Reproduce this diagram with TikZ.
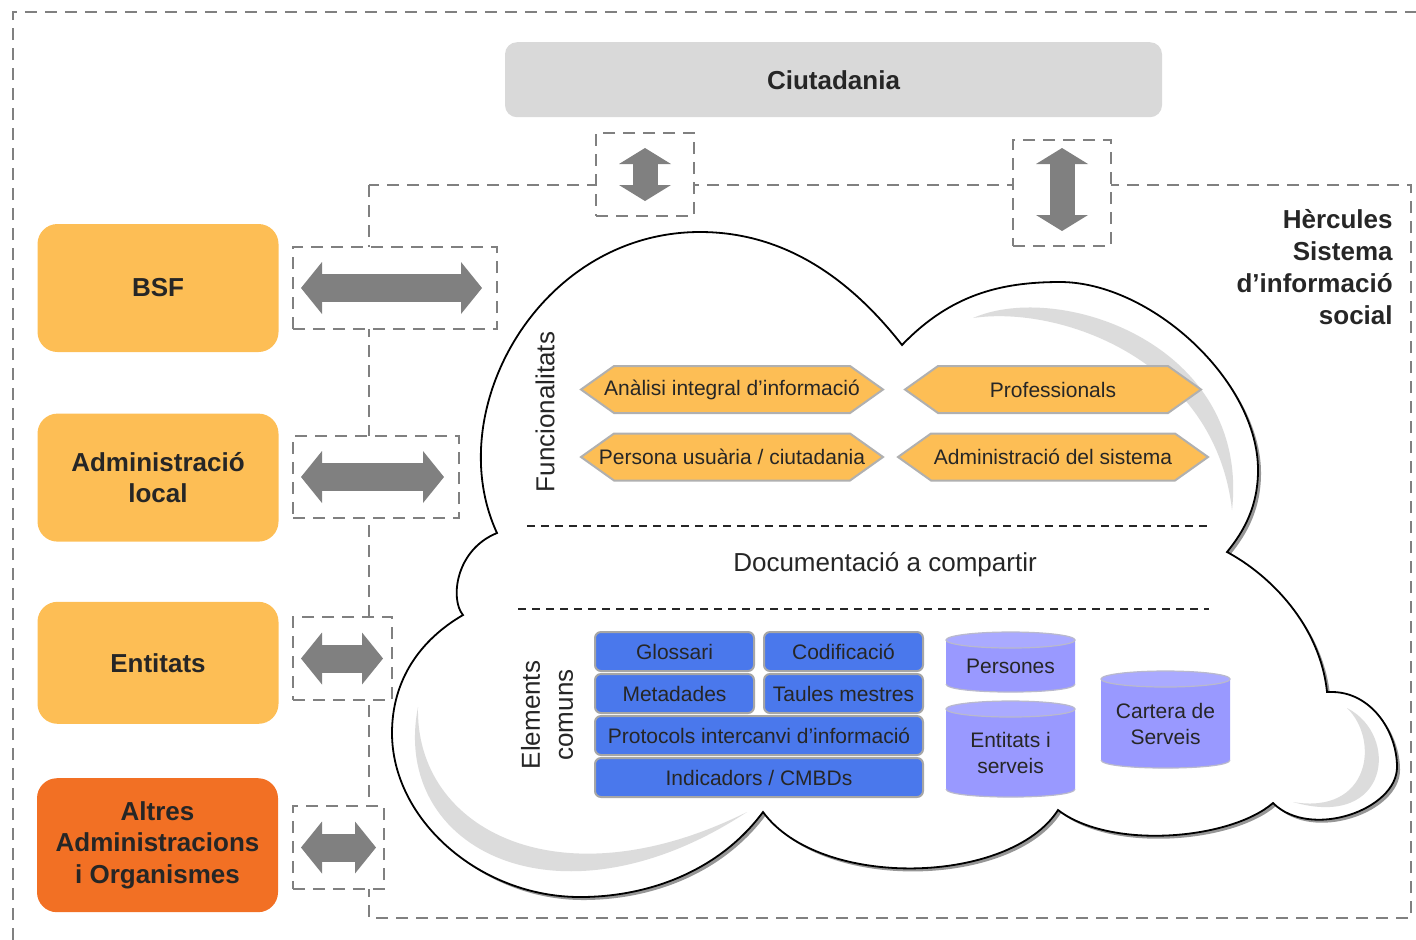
\documentclass[tikz,border=0pt]{standalone}
\usepackage{fontspec}
\setmainfont{Liberation Sans}
\usepackage{tikz}
\usetikzlibrary{arrows.meta,positioning}

\definecolor{orgyellow}{RGB}{253,190,85}
\definecolor{orgorange}{RGB}{242,112,36}
\definecolor{citgray}{RGB}{217,217,217}
\definecolor{framegray}{RGB}{128,128,128}
\definecolor{arrgray}{RGB}{128,128,128}
\definecolor{elemblue}{RGB}{74,120,236}
\definecolor{elemline}{RGB}{166,166,166}
\definecolor{hexline}{RGB}{176,176,176}
\definecolor{dbbody}{RGB}{153,153,255}
\definecolor{dbtop}{RGB}{170,170,255}
\definecolor{dbline}{RGB}{185,185,205}
\definecolor{txtdark}{RGB}{38,38,38}
\definecolor{shinegray}{RGB}{220,220,220}
\definecolor{cloudshadow}{RGB}{150,150,150}

\newcommand{\hcloud}{(497,533) .. controls (440,410) and (540,232) .. (700,232)
	.. controls (790,232) and (855,285) .. (902,345)
	.. controls (950,295) and (1000,282) .. (1060,282)
	.. controls (1150,282) and (1258,380) .. (1258,470)
	.. controls (1258,505) and (1245,530) .. (1227,552)
	.. controls (1270,575) and (1320,625) .. (1327,692) -- (1332,692)
	.. controls (1370,692) and (1397,730) .. (1397,767)
	.. controls (1397,810) and (1310,840) .. (1273,803)
	.. controls (1230,840) and (1110,850) .. (1058,810)
	.. controls (1010,885) and (820,890) .. (763,812)
	.. controls (720,870) and (650,897) .. (580,897)
	.. controls (480,897) and (392,820) .. (392,733)
	.. controls (392,680) and (420,640) .. (463,615)
	.. controls (450,600) and (455,550) .. (497,533) -- cycle}

\newcommand{\funcbox}[5]{%
	\draw[funcshape] (#2,#4) -- (#2+33,#4-23.5) -- (#3-33,#4-23.5) -- (#3,#4) -- (#3-33,#4+23.5) -- (#2+33,#4+23.5) -- cycle;
	\node[functext] (#1) at ({(#2+#3)/2},#4) {#5};}

\newcommand{\dbcyl}[6]{%
	\fill[dbbody] (#2,#4+8) -- (#2,#5-8) .. controls (#2,#5+2.7) and (#3,#5+2.7) .. (#3,#5-8) -- (#3,#4+8) -- cycle;
	\draw[dbedge] (#2,#5-8) .. controls (#2,#5+2.7) and (#3,#5+2.7) .. (#3,#5-8);
	\filldraw[dbtop,draw=dbline,line width=0.6pt] ({(#2+#3)/2},#4+8) ellipse [x radius=32.25pt,y radius=4pt];
	\node[dbtext] (#1) at ({(#2+#3)/2},{(#4+#5)/2+4}) {#6};}

\begin{document}
\begin{tikzpicture}[x=0.5pt,y=-0.5pt,
	dashframe/.style={draw=framegray,line width=1.2pt,dash pattern=on 6pt off 4pt},
	arrbox/.style={dashframe,fill=white,inner sep=0pt,outer sep=0pt},
	harrow/.style={draw=arrgray,line width=14pt,{Triangle[width=26pt,length=10.5pt,line width=0pt 0]}-{Triangle[width=26pt,length=10.5pt,line width=0pt 0]}},
	varrow/.style={draw=arrgray,line width=12.5pt,{Triangle[width=26pt,length=8pt,line width=0pt 0]}-{Triangle[width=26pt,length=8pt,line width=0pt 0]}},
	orgbox/.style={fill=orgyellow,rounded corners=10pt,inner sep=0pt,minimum width=120.5pt,align=center,text=txtdark,font=\bfseries\fontsize{13}{15.7}\selectfont},
	citbox/.style={fill=citgray,rounded corners=6pt,minimum width=328.5pt,minimum height=37.5pt,text=txtdark,font=\bfseries\fontsize{13}{15.7}\selectfont},
	funcshape/.style={fill=orgyellow,draw=hexline,line width=1pt},
	functext/.style={inner sep=0pt,text=txtdark,font=\fontsize{10.5}{12}\selectfont},
	elembox/.style={fill=elemblue,draw=elemline,line width=1pt,rounded corners=3pt,inner sep=0pt,outer sep=0pt,minimum height=19.5pt,text=txtdark,font=\fontsize{10.5}{12}\selectfont},
	dbedge/.style={draw=dbline,line width=0.6pt},
	dbtext/.style={align=center,inner sep=0pt,text=txtdark,font=\fontsize{10.5}{13}\selectfont},
	lbltext/.style={inner sep=0pt,text=txtdark,font=\fontsize{13}{16.5}\selectfont},
	sepline/.style={draw=black!85,line width=0.9pt,dash pattern=on 4pt off 3pt},
	cloudline/.style={draw=black,fill=white,line width=0.9pt}]
	\useasboundingbox (0,0) rectangle (1416,939);

	\draw[dashframe] (13,980) -- (13,12) -- (1440,12);
	\draw[dashframe] (369,185) rectangle (1411,918);

	\node[arrbox,minimum width=102pt,minimum height=41pt] (bsfarr) at (395,288) {};
	\node[arrbox,minimum width=83pt,minimum height=41pt] (admarr) at (376,477) {};
	\node[arrbox,minimum width=49.5pt,minimum height=41.5pt] (entarr) at (342.5,658.5) {};
	\node[arrbox,minimum width=45.5pt,minimum height=41.5pt] (altarr) at (338.5,847.5) {};
	\node[arrbox,minimum width=49pt,minimum height=41.5pt] (ciuarr1) at (645,174.5) {};
	\node[arrbox,minimum width=49pt,minimum height=53pt] (ciuarr2) at (1062,193) {};

	\draw[harrow] ([xshift=4pt]bsfarr.west) -- ([xshift=-7.5pt]bsfarr.east);
	\draw[harrow] ([xshift=4pt]admarr.west) -- ([xshift=-7.5pt]admarr.east);
	\draw[harrow] ([xshift=4pt]entarr.west) -- ([xshift=-4.5pt]entarr.east);
	\draw[harrow] ([xshift=4pt]altarr.west) -- ([xshift=-4pt]altarr.east);
	\draw[varrow] ([yshift=-7.5pt]ciuarr1.north) -- ([yshift=7.5pt]ciuarr1.south);
	\draw[varrow] ([yshift=-4pt]ciuarr2.north) -- ([yshift=7.5pt]ciuarr2.south);

	\node[orgbox,minimum height=64pt] (bsf) at (158,288) {BSF};
	\node[orgbox,minimum height=64pt] (admloc) at (158,477.6) {Administració\\local};
	\node[orgbox,minimum height=61pt] (entitats) at (158,662.8) {Entitats};
	\node[orgbox,fill=orgorange,minimum height=67pt] (altres) at (157.5,845.2) {Altres\\Administracions\\i Organismes};

	\node[citbox] (ciutadania) at (833.5,79.7) {Ciutadania};

	\fill[cloudshadow,shift={(3,3)}] \hcloud;
	\draw[cloudline] \hcloud;
	\fill[shinegray] (973,318) .. controls (1060,280) and (1250,345) .. (1232,510) .. controls (1215,360) and (1060,305) .. (973,318) -- cycle;
	\fill[shinegray] (418,707) .. controls (390,850) and (560,935) .. (747,812) .. controls (560,905) and (415,830) .. (418,707) -- cycle;
	\fill[shinegray] (1347,708) .. controls (1400,735) and (1390,830) .. (1293,802) .. controls (1370,815) and (1380,740) .. (1347,708) -- cycle;

	\draw[sepline] (527,526) -- (1207,526);
	\draw[sepline] (518,609) -- (1209,609);

	\node[lbltext,rotate=90] (funcs) at (545,412) {Funcionalitats};
	\node[lbltext] (docs) at (885,565) {Documentació a compartir};
	\node[lbltext,rotate=90,align=center] (elems) at (547,715) {Elements\\comuns};

	\funcbox{analisi}{581}{883}{389.5}{Anàlisi integral d’informació}
	\funcbox{professionals}{905}{1201}{389.5}{Professionals}
	\funcbox{persona}{581}{883}{457}{Persona usuària / ciutadania}
	\funcbox{adminsis}{898}{1208}{457}{Administració del sistema}

	\node[elembox,minimum width=79.5pt] (glossari) at (674.5,651.5) {Glossari};
	\node[elembox,minimum width=79.5pt,right=5pt of glossari] (codif) {Codificació};
	\node[elembox,minimum width=79.5pt,below=1.5pt of glossari] (metadades) {Metadades};
	\node[elembox,minimum width=79.5pt,right=5pt of metadades] (taules) {Taules mestres};
	\node[elembox,minimum width=164pt,below right=1.5pt and 0pt of metadades.south west] (protocols) {Protocols intercanvi d’informació};
	\node[elembox,minimum width=164pt,below=1.5pt of protocols] (indicadors) {Indicadors / CMBDs};

	\dbcyl{persones}{946}{1075}{632}{692}{Persones}
	\dbcyl{entserv}{946}{1075}{701}{797}{Entitats i\\serveis}
	\dbcyl{cartera}{1101}{1230}{671}{768}{Cartera de\\Serveis}

	\node[anchor=north east,align=right,inner sep=0pt,text=txtdark,font=\bfseries\fontsize{13}{16}\selectfont] (sistema) at (1393,209.5) {Hèrcules\\Sistema\\d’informació\\social};
\end{tikzpicture}
\end{document}
